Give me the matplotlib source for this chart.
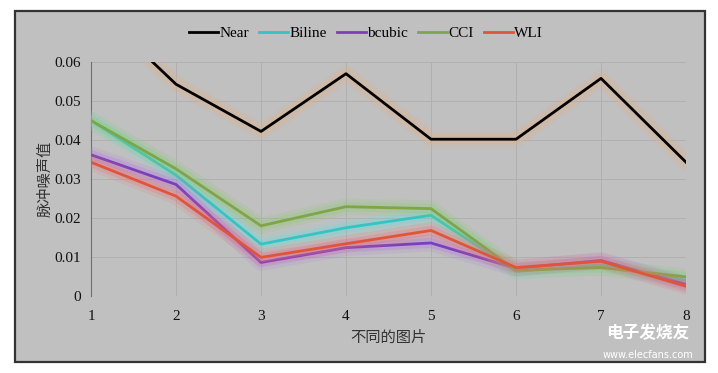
import numpy as np
import matplotlib
matplotlib.use('Agg')
import matplotlib.pyplot as plt
import matplotlib.patheffects as pe
from matplotlib.patches import Rectangle

plt.rcParams['font.family'] = ['Liberation Serif', 'Noto Sans CJK SC']

# data
images = [1, 2, 3, 4, 5, 6, 7, 8]
near = [0.075, 0.0543, 0.0422, 0.0570, 0.0402, 0.0402, 0.0558, 0.0343]
biline = [0.0450, 0.0310, 0.0133, 0.0175, 0.0207, 0.0063, 0.0080, 0.0040]
bcubic = [0.0362, 0.0286, 0.0086, 0.0124, 0.0136, 0.0071, 0.0091, 0.0030]
cci = [0.0450, 0.0326, 0.0180, 0.0229, 0.0224, 0.0066, 0.0073, 0.0049]
wli = [0.0343, 0.0256, 0.0099, 0.0134, 0.0168, 0.0073, 0.0089, 0.0025]

names = ['Near', 'Biline', 'bcubic', 'CCI', 'WLI']
series = [near, biline, bcubic, cci, wli]
colors = ['#000000', '#33c4c4', '#7b3fbd', '#7fa548', '#e0553a']
glows = ['#e8b07a', '#66dddd', '#b070e0', '#88cc66', '#f07070']
yticks = [0, 0.01, 0.02, 0.03, 0.04, 0.05, 0.06]
ytick_labels = ['0', '0.01', '0.02', '0.03', '0.04', '0.05', '0.06']

fig = plt.figure(figsize=(7.18, 3.73), dpi=100)
fig.patch.set_facecolor('white')
# grey panel with dark frame
fig.patches.append(Rectangle((15/718, 1-362/373), 690/718, 351/373,
                             transform=fig.transFigure, facecolor='#c0c0c0',
                             edgecolor='#333333', linewidth=1.6, zorder=-5))

ax = fig.add_axes([91/718, 1-296/373, 595/718, 234/373])
ax.set_facecolor('#c0c0c0')

for name, vals, c, g in zip(names, series, colors, glows):
    ax.plot(images, vals, color=c, lw=2, label=name, zorder=3,
            path_effects=[pe.Stroke(linewidth=12, foreground=g, alpha=0.15),
                          pe.Stroke(linewidth=7, foreground=g, alpha=0.25),
                          pe.Normal()])

ax.set_xlim(1, 8)
ax.set_ylim(0, 0.06)
ax.set_xticks(images)
ax.set_yticks(yticks)
ax.set_yticklabels(ytick_labels)
ax.tick_params(length=0, labelsize=11, colors='#111111')
ax.tick_params(axis='y', pad=7)
ax.tick_params(axis='x', pad=10)
ax.grid(True, color='#b0b0b0', lw=0.7)
ax.set_axisbelow(True)
for s in ['top', 'right', 'bottom']:
    ax.spines[s].set_visible(False)
ax.spines['left'].set_color('#707070')

ax.set_ylabel('脉冲噪声值', family=['Noto Sans CJK SC'], fontsize=11, color='#333333', labelpad=1)
ax.set_xlabel('不同的图片', family=['Noto Sans CJK SC'], fontsize=11, color='#333333', labelpad=4)

leg = fig.legend(loc='center', bbox_to_anchor=(366/718, 1-33/373), ncol=5, frameon=False,
                 fontsize=11, handlelength=1.9, handletextpad=0.1, columnspacing=0.65)
for line in leg.get_lines():
    line.set_path_effects([])
    line.set_linewidth(2)

# watermark
fig.text(648/718, 1-333/373, '电子发烧友', family=['Noto Sans CJK SC'], fontsize=12,
         color='white', ha='center', va='center', weight='bold')
fig.text(648/718, 1-355/373, 'www.elecfans.com', family=['DejaVu Sans'], fontsize=7,
         color='white', ha='center', va='center')

fig.savefig('out.png', dpi=100)
